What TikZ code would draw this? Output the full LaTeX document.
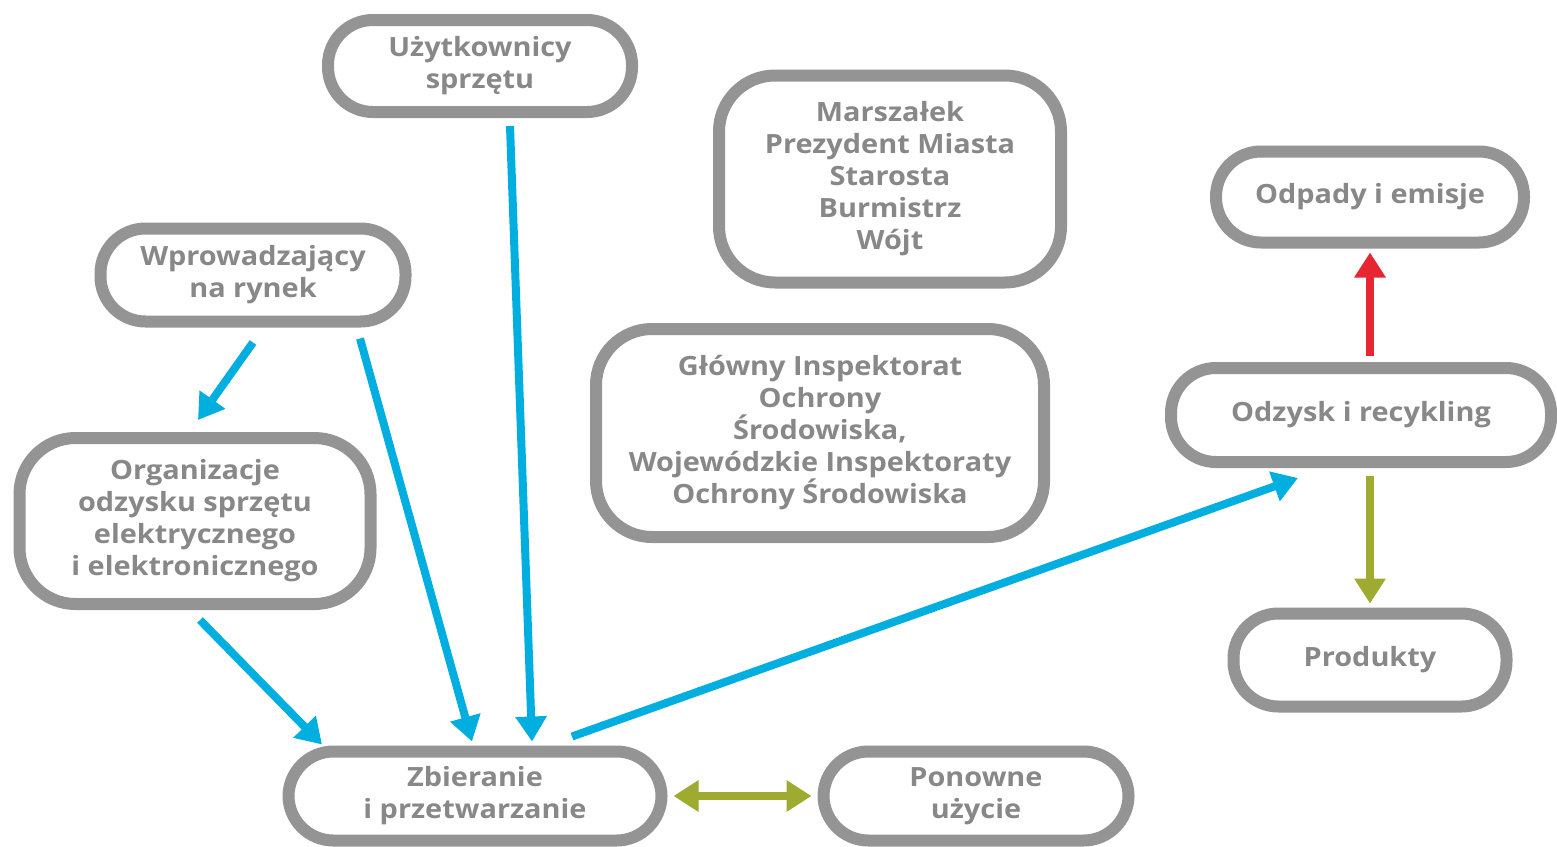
\documentclass[tikz,border=0pt]{standalone}
\usepackage{fontspec}
\setmainfont{Open Sans}[FakeStretch=1.09]
\definecolor{boxgray}{RGB}{148,148,148}
\definecolor{textgray}{RGB}{136,136,136}
\definecolor{flowblue}{RGB}{0,174,224}
\definecolor{flowred}{RGB}{230,38,48}
\definecolor{flowolive}{RGB}{158,170,48}
\usetikzlibrary{arrows.meta,positioning}

\begin{document}
\begin{tikzpicture}[x=1pt, y=-1pt,
    actor/.style={rectangle, draw=boxgray, line width=12pt, fill=white,
                  rounded corners=45pt, inner sep=0pt, outer sep=0pt, align=center,
                  text=textgray, font=\fontsize{26.5}{32}\selectfont\bfseries},
    office/.style={actor, rounded corners=56pt},
    flow/.style={line width=8pt, -{Triangle[length=25pt, width=30pt]}}]

    \useasboundingbox (0,0) rectangle (1557,846);

    % Boxes
    \node[actor, minimum width=304pt, minimum height=92pt] (uzyt) at (480,66) {Użytkownicy\\sprzętu};
    \node[office, minimum width=342pt, minimum height=207pt] (marsz) at (890,179) {Marszałek\\Prezydent Miasta\\Starosta\\Burmistrz\\Wójt};
    \node[actor, minimum width=305pt, minimum height=93pt] (wprow) at (253,275) {Wprowadzający\\na rynek};
    \node[actor, minimum width=308pt, minimum height=91pt] (odpady) at (1370,197) {Odpady i emisje};
    \node[office, minimum width=448pt, minimum height=208pt] (gios) at (820,433) {Główny Inspektorat\\Ochrony\\Środowiska,\\Wojewódzkie Inspektoraty\\Ochrony Środowiska};
    \node[actor, minimum width=380pt, minimum height=94pt] (odzysk) at (1361,415) {Odzysk i recykling};
    \node[office, minimum width=351pt, minimum height=166pt] (organ) at (195,521) {Organizacje\\odzysku sprzętu\\elektrycznego\\i elektronicznego};
    \node[actor, minimum width=273pt, minimum height=93pt] (produkty) at (1370,660) {Produkty};
    \node[actor, minimum width=373pt, minimum height=89pt] (zbier) at (475,796) {Zbieranie\\i przetwarzanie};
    \node[actor, minimum width=305pt, minimum height=89pt] (ponowne) at (976,796) {Ponowne\\użycie};

    % Blue arrows
    \draw[flow, flowblue] ([xshift=30pt, yshift=-14pt]uzyt.south) -- ([xshift=57pt, yshift=10pt]zbier.north);
    \draw[flow, flowblue] ([yshift=-21pt]wprow.south) -- ([xshift=3pt, yshift=18pt]organ.north);
    \draw[flow, flowblue] ([xshift=107pt, yshift=-17pt]wprow.south) -- ([xshift=-3pt, yshift=10pt]zbier.north);
    \draw[flow, flowblue] ([xshift=5pt, yshift=-16pt]organ.south) -- ([xshift=-153pt, yshift=7pt]zbier.north);
    \draw[flow, flowblue] ([xshift=97pt, yshift=15pt]zbier.north) -- ([xshift=-63pt, yshift=-16pt]odzysk.south);

    % Outputs
    \draw[flow, flowred] ([xshift=9pt, yshift=12pt]odzysk.north) -- ([yshift=-10pt]odpady.south);
    \draw[flow, flowolive] ([xshift=9pt, yshift=-14pt]odzysk.south) -- ([yshift=10pt]produkty.north);
    \draw[flow, flowolive, {Triangle[length=25pt, width=30pt]}-{Triangle[length=25pt, width=30pt]}] ([xshift=12pt]zbier.east) -- ([xshift=-12pt]ponowne.west);
\end{tikzpicture}
\end{document}
